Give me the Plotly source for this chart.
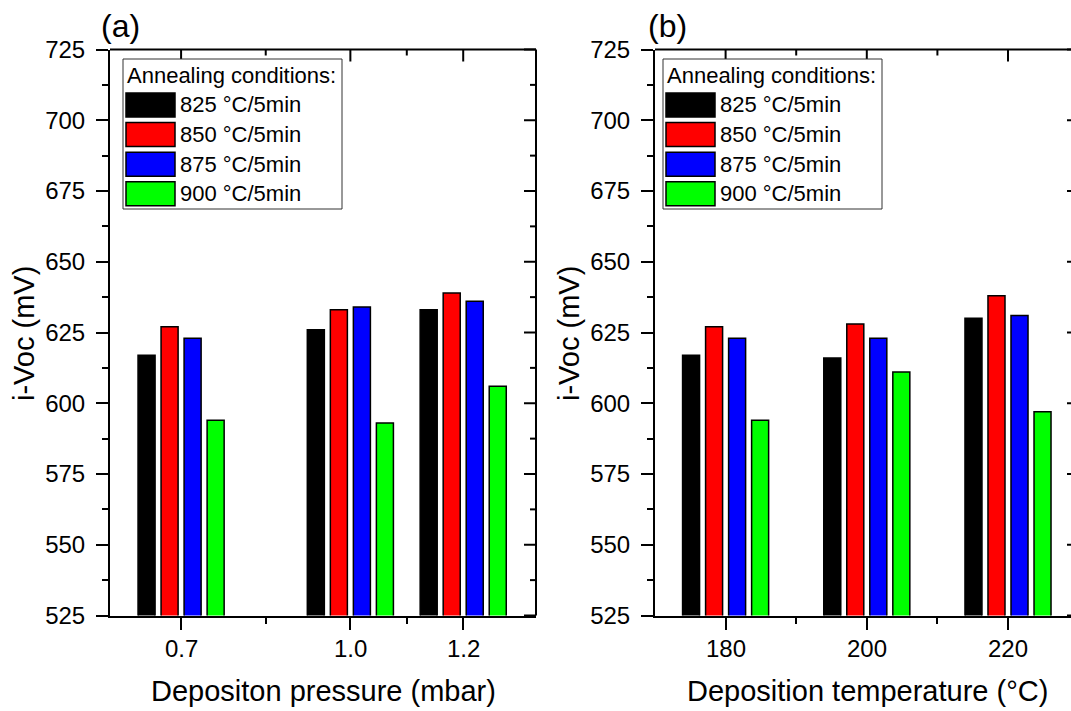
import plotly.graph_objects as go

# ---------------- data ----------------
pressure = [0.7, 1.0, 1.2]
pressure_labels = ["0.7", "1.0", "1.2"]
pressure_minor = [0.85, 1.1]
temperature = [180, 200, 220]
temperature_labels = ["180", "200", "220"]
temperature_minor = [190, 210]
series_names = ["825 °C/5min", "850 °C/5min", "875 °C/5min", "900 °C/5min"]
series_colors = ["#000000", "#ff0000", "#0000ff", "#00ff00"]

voc_pressure_825 = [617, 626, 633]
voc_pressure_850 = [627, 633, 639]
voc_pressure_875 = [623, 634, 636]
voc_pressure_900 = [594, 593, 606]

voc_temp_825 = [617, 616, 630]
voc_temp_850 = [627, 628, 638]
voc_temp_875 = [623, 623, 631]
voc_temp_900 = [594, 611, 597]

y_ticks = [525, 550, 575, 600, 625, 650, 675, 700, 725]
y_minor = [(a + b) / 2 for a, b in zip(y_ticks[:-1], y_ticks[1:])]

# ---------------- geometry helpers ----------------
W, H = 1071, 711
FONT = "Liberation Sans, Arial, sans-serif"


def PX(x):
    return x / W


def PY(y):
    return 1 - y / H


# plot areas in pixels
A_L, A_R = 110, 536
B_L, B_R = 655, 1071
TOP, BOT = 49.5, 615.5
PLOT_H = BOT - TOP
Y_RANGE = [525, 725]


def y_to_py(v):
    """pixel row of a y-axis value (same linear scale as the y axes)"""
    return BOT - (v - Y_RANGE[0]) / (Y_RANGE[1] - Y_RANGE[0]) * PLOT_H


a_range = [0.574, 1.329]
b_range = [170, 170 + (B_R - B_L) / 7.06]

fig = go.Figure()

pres_series = [voc_pressure_825, voc_pressure_850, voc_pressure_875, voc_pressure_900]
temp_series = [voc_temp_825, voc_temp_850, voc_temp_875, voc_temp_900]

# bar geometry (data units)
a_w, a_pitch = 0.0302, 0.0408
b_w, b_pitch = 2.41, 3.26

for i, (name, col) in enumerate(zip(series_names, series_colors)):
    fig.add_trace(go.Bar(
        x=pressure, y=pres_series[i], name=name,
        marker=dict(color=col, line=dict(color="black", width=1.5)),
        width=a_w, offset=(i - 1.5) * a_pitch - a_w / 2,
        xaxis="x", yaxis="y", showlegend=False))
    fig.add_trace(go.Bar(
        x=temperature, y=temp_series[i], name=name,
        marker=dict(color=col, line=dict(color="black", width=1.5)),
        width=b_w, offset=(i - 1.5) * b_pitch - b_w / 2,
        xaxis="x2", yaxis="y2", showlegend=False))

tickfont = dict(family=FONT, size=24, color="black")


def xaxis_cfg(domain, rng, vals, minors, anchor):
    return dict(domain=domain, range=rng, anchor=anchor,
                tickmode="array", tickvals=vals, showticklabels=False,
                ticks="outside", ticklen=12, tickwidth=2, tickcolor="black",
                minor=dict(tickmode="array", tickvals=minors, ticks="outside",
                           ticklen=6, tickwidth=2, tickcolor="black"),
                showline=True, linecolor="black", linewidth=2, showgrid=False,
                zeroline=False, automargin=False, fixedrange=True)


def yaxis_cfg(anchor):
    return dict(domain=[PY(BOT), PY(TOP)], anchor=anchor, range=Y_RANGE,
                tickmode="array", tickvals=y_ticks,
                ticks="outside", ticklen=12, tickwidth=2, tickcolor="black",
                minor=dict(tickmode="array", tickvals=y_minor, ticks="outside",
                           ticklen=6, tickwidth=2, tickcolor="black"),
                showline=True, linecolor="black", linewidth=2, showgrid=False,
                zeroline=False, tickfont=tickfont, ticklabelstandoff=6,
                automargin=False, fixedrange=True)


fig.update_layout(
    width=W, height=H,
    margin=dict(l=0, r=0, t=0, b=0, autoexpand=False),
    paper_bgcolor="white", plot_bgcolor="white",
    barmode="overlay",
    showlegend=False,
    font=dict(family=FONT, color="black"),
    xaxis=xaxis_cfg([PX(A_L), PX(A_R)], a_range, pressure, pressure_minor, "y"),
    yaxis=yaxis_cfg("x"),
    xaxis2=xaxis_cfg([PX(B_L), PX(B_R)], b_range, temperature, temperature_minor, "y2"),
    yaxis2=yaxis_cfg("x2"),
)

annotations = []
shapes = []
line_style = dict(color="black", width=2)

# x tick labels (placed at the tick values of each x axis)
for xa, vals, labels in (("x", pressure, pressure_labels), ("x2", temperature, temperature_labels)):
    for v, lab in zip(vals, labels):
        annotations.append(dict(text=lab, x=v, xref=xa, y=PY(648), yref="paper",
                                showarrow=False, font=tickfont,
                                xanchor="center", yanchor="middle"))

# ---- top / right frame with inward ticks (Origin style) ----
for xa, ya, xvals, xmin, right_px, right_len, right_minor in (
        ("x", "y", pressure, pressure_minor, A_R, 12, True),
        ("x2", "y2", temperature, temperature_minor, B_R, 4, False)):
    xd, yd = xa + " domain", ya + " domain"
    shapes.append(dict(type="line", xref=xd, yref=yd, x0=0, x1=1, y0=1, y1=1,
                       line=line_style, layer="above"))
    if right_minor:
        shapes.append(dict(type="line", xref=xd, yref=yd, x0=1, x1=1, y0=0, y1=1,
                           line=line_style, layer="above"))
    for v in xvals:
        shapes.append(dict(type="line", xref=xa, yref=yd, x0=v, x1=v,
                           y0=1, y1=1 - 12 / PLOT_H, line=line_style, layer="above"))
    for v in xmin:
        shapes.append(dict(type="line", xref=xa, yref=yd, x0=v, x1=v,
                           y0=1, y1=1 - 6 / PLOT_H, line=line_style, layer="above"))
    for v in y_ticks:
        yy = PY(y_to_py(v))
        shapes.append(dict(type="line", xref="paper", yref="paper",
                           x0=PX(right_px), x1=PX(right_px - right_len),
                           y0=yy, y1=yy, line=line_style, layer="above"))
    if right_minor:
        for v in y_minor:
            yy = PY(y_to_py(v))
            shapes.append(dict(type="line", xref="paper", yref="paper",
                               x0=PX(right_px), x1=PX(right_px - 6),
                               y0=yy, y1=yy, line=line_style, layer="above"))

# axis titles
title_font = dict(family=FONT, size=29, color="black")
annotations.append(dict(text="Depositon pressure (mbar)", x=PX(323), y=PY(691),
                        xref="paper", yref="paper", showarrow=False, font=title_font,
                        xanchor="center", yanchor="middle"))
annotations.append(dict(text="Deposition temperature (°C)", x=PX(867), y=PY(691),
                        xref="paper", yref="paper", showarrow=False, font=title_font,
                        xanchor="center", yanchor="middle"))
annotations.append(dict(text="i-Voc (mV)", x=PX(24), y=PY(334), textangle=-90,
                        xref="paper", yref="paper", showarrow=False, font=title_font,
                        xanchor="center", yanchor="middle"))
annotations.append(dict(text="i-Voc (mV)", x=PX(569), y=PY(334), textangle=-90,
                        xref="paper", yref="paper", showarrow=False, font=title_font,
                        xanchor="center", yanchor="middle"))
# panel labels
label_font = dict(family=FONT, size=32, color="black")
annotations.append(dict(text="(a)", x=PX(99), y=PY(26), xref="paper", yref="paper",
                        showarrow=False, font=label_font, xanchor="left", yanchor="middle"))
annotations.append(dict(text="(b)", x=PX(646), y=PY(26), xref="paper", yref="paper",
                        showarrow=False, font=label_font, xanchor="left", yanchor="middle"))

# custom legends
leg_font = dict(family=FONT, size=22, color="black")
for dx in (0, 540):
    bx0, bx1, by0, by1 = 123 + dx, 342 + dx, 59, 209
    shapes.append(dict(type="rect", xref="paper", yref="paper",
                       x0=PX(bx0), x1=PX(bx1), y0=PY(by1), y1=PY(by0),
                       line=dict(color="#333333", width=1), fillcolor="white", layer="above"))
    annotations.append(dict(text="Annealing conditions:", x=PX(125 + dx), y=PY(76),
                            xref="paper", yref="paper", showarrow=False, font=leg_font,
                            xanchor="left", yanchor="middle"))
    for i, (name, col) in enumerate(zip(series_names, series_colors)):
        cy = 105 + i * 29.6
        shapes.append(dict(type="rect", xref="paper", yref="paper",
                           x0=PX(126 + dx), x1=PX(175 + dx), y0=PY(cy + 12), y1=PY(cy - 12),
                           line=dict(color="black", width=1.5), fillcolor=col, layer="above"))
        annotations.append(dict(text=name, x=PX(178 + dx), y=PY(cy),
                                xref="paper", yref="paper", showarrow=False, font=leg_font,
                                xanchor="left", yanchor="middle"))

fig.update_layout(annotations=annotations, shapes=shapes)
fig.write_html("out.html")
